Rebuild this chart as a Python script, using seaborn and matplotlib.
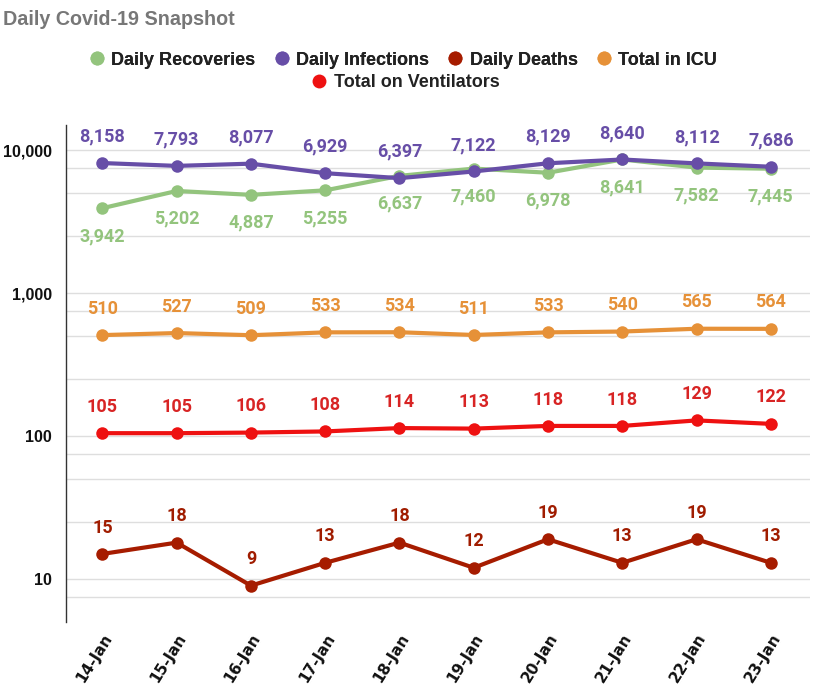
import matplotlib
matplotlib.use("Agg")
import matplotlib.pyplot as plt
import matplotlib.ticker as mticker
from matplotlib.lines import Line2D
import seaborn as sns
import pandas as pd

dates = ["14-Jan", "15-Jan", "16-Jan", "17-Jan", "18-Jan", "19-Jan", "20-Jan", "21-Jan", "22-Jan", "23-Jan"]
recoveries = [3942, 5202, 4887, 5255, 6637, 7460, 6978, 8641, 7582, 7445]
infections = [8158, 7793, 8077, 6929, 6397, 7122, 8129, 8640, 8112, 7686]
deaths = [15, 18, 9, 13, 18, 12, 19, 13, 19, 13]
icu = [510, 527, 509, 533, 534, 511, 533, 540, 565, 564]
ventilators = [105, 105, 106, 108, 114, 113, 118, 118, 129, 122]

series_names = ["Daily Recoveries", "Daily Infections", "Daily Deaths", "Total in ICU", "Total on Ventilators"]
series_values = [recoveries, infections, deaths, icu, ventilators]
colors = ["#93c47d", "#674ea7", "#a61c00", "#e69138", "#ee1111"]
label_colors = ["#93c47d", "#674ea7", "#a01c00", "#e69138", "#d82424"]
label_pos = ["below", "above", "above", "above", "above"]

sns.set_style("white")
plt.rcParams["font.family"] = ["Roboto", "DejaVu Sans"]

rows = []
for name, vals in zip(series_names, series_values):
    for i, (d, v) in enumerate(zip(dates, vals)):
        rows.append({"date": d, "idx": i, "value": v, "series": name})
df = pd.DataFrame(rows)

fig = plt.figure(figsize=(8.2, 6.92), dpi=100)
ax = fig.add_axes([0.0805, 0.101, 0.9075, 0.718])

palette = dict(zip(series_names, colors))
sns.lineplot(data=df, x="idx", y="value", hue="series", hue_order=series_names,
             palette=palette, marker="o", markersize=9, markeredgewidth=0,
             linewidth=3, legend=False, ax=ax, zorder=3)

ax.set_yscale("log")
ax.set_ylim(5, 15000)
ax.set_xlim(-0.49, 9.53)
ax.yaxis.set_major_locator(mticker.FixedLocator([10, 100, 1000, 10000]))
ax.yaxis.set_major_formatter(mticker.FuncFormatter(lambda v, p: f"{int(v):,}"))
ax.yaxis.set_minor_locator(mticker.FixedLocator([7.5, 25, 50, 75, 250, 500, 750, 2500, 5000, 7500]))
ax.yaxis.set_minor_formatter(mticker.NullFormatter())
ax.grid(True, which="both", axis="y", color="#dedede", linewidth=1, zorder=0)
ax.grid(False, axis="x")
ax.set_axisbelow(True)

ax.set_xticks(range(len(dates)))
ax.set_xticklabels(dates, rotation=58, ha="right", rotation_mode="anchor",
                   fontsize=11, fontweight="bold", color="#111111",
                   family=["DejaVu Sans"])
ax.tick_params(axis="x", length=0, pad=6)
ax.tick_params(axis="y", which="major", direction="inout", length=10, width=1,
               color="#333333", labelsize=11.5, pad=5)
ax.tick_params(axis="y", which="minor", direction="inout", length=5, width=1, color="#333333")
for lbl in ax.get_yticklabels():
    lbl.set_fontweight("bold")
    lbl.set_color("#111111")
    lbl.set_family(["Liberation Sans", "DejaVu Sans"])
ax.set_xlabel("")
ax.set_ylabel("")

for side in ["top", "right", "bottom"]:
    ax.spines[side].set_visible(False)
ax.spines["left"].set_color("#333333")
ax.spines["left"].set_linewidth(1)

for name, vals, col, pos in zip(series_names, series_values, label_colors, label_pos):
    off = -20 if pos == "below" else 19
    for i, v in enumerate(vals):
        ax.annotate(f"{v:,}", (i, v), xytext=(0, off), textcoords="offset points",
                    ha="center", va="center", fontsize=13, fontweight="bold",
                    color=col, zorder=5, family=["Roboto", "DejaVu Sans"])

fig.text(0.004, 0.972, "Daily Covid-19 Snapshot", fontsize=14.2, fontweight="bold",
         color="#777777", ha="left", va="center", family=["Liberation Sans", "DejaVu Sans"])

def handle(c):
    return Line2D([], [], marker="o", linestyle="none", markersize=10,
                  markerfacecolor=c, markeredgewidth=0)

legprop = {"weight": "bold", "size": 13, "family": ["Liberation Sans", "DejaVu Sans"]}
h1 = [handle(c) for c in colors[:4]]
leg1 = fig.legend(h1, series_names[:4], loc="center", bbox_to_anchor=(0.491, 0.913),
                  ncol=4, frameon=False, handletextpad=0.3, columnspacing=0.95,
                  handlelength=1.0, prop=legprop)
for t in leg1.get_texts():
    t.set_color("#222222")
leg2 = fig.legend([handle(colors[4])], series_names[4:], loc="center",
                  bbox_to_anchor=(0.494, 0.881), frameon=False, handletextpad=0.3,
                  handlelength=1.0, prop=legprop)
for t in leg2.get_texts():
    t.set_color("#222222")
fig.add_artist(leg1)

fig.savefig("out.png", dpi=100, facecolor="white")
